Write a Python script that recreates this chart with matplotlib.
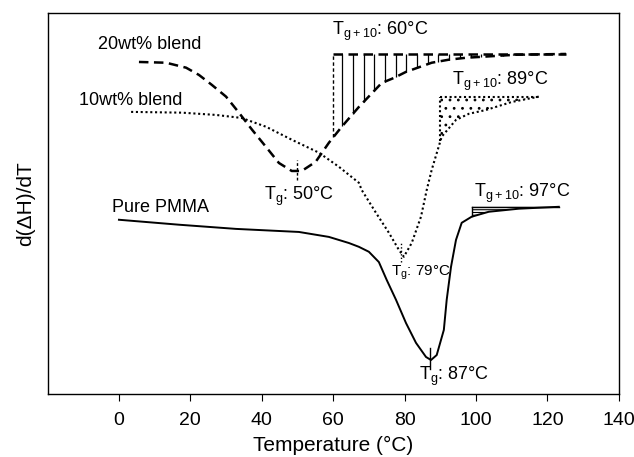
import numpy as np
import matplotlib
matplotlib.use("Agg")
import matplotlib.pyplot as plt

plt.rcParams['font.family'] = ['Liberation Sans', 'DejaVu Sans']
plt.rcParams['mathtext.fontset'] = 'custom'
plt.rcParams['mathtext.rm'] = 'Liberation Sans'
plt.rcParams['hatch.linewidth'] = 0.8

# Pure PMMA (solid)
pmma_t = [0, 16.8, 32.8, 50.4, 58.8, 64.4, 67.2, 70.0, 72.8, 75.0, 77.6, 80.4, 83.2,
          86.0, 87.4, 89.0, 91.0, 91.8, 93.0, 94.4, 96.0, 98.8, 103.6, 112.0, 123.2]
pmma_y = [45.7, 44.4, 43.3, 42.5, 41.2, 39.6, 38.6, 37.3, 34.6, 29.9, 24.7, 18.6, 13.4,
          9.7, 8.9, 10.2, 16.8, 24.7, 33.3, 40.4, 44.9, 46.5, 47.8, 48.6, 49.1]

# 10wt% blend (dotted)
b10_t = [3.4, 17.6, 27.2, 34.4, 41.2, 48.4, 56.0, 61.6, 67.2, 68.0, 72.0, 75.6, 78.4,
         79.8, 82.0, 84.6, 86.2, 87.6, 90.4, 94.4, 98.0, 102.8, 110.0, 117.6]
b10_y = [74.0, 73.8, 73.2, 72.4, 70.1, 66.7, 63.3, 59.6, 55.4, 53.5, 47.5, 42.3, 37.8,
         36.0, 39.6, 46.5, 53.5, 58.8, 67.5, 71.9, 73.5, 74.5, 76.6, 78.0]

# 20wt% blend (dashed)
b20_t = [5.6, 13.2, 18.8, 22.4, 26.0, 30.0, 33.6, 37.3, 41.2, 44.8, 48.4, 51.2, 55.1,
         58.8, 62.4, 67.2, 73.6, 77.0, 80.4, 87.6, 92.4, 97.2, 111.2, 125.2]
b20_y = [87.1, 86.9, 85.6, 83.7, 81.1, 78.0, 73.8, 69.3, 64.8, 60.6, 58.5, 58.5, 60.9,
         65.9, 70.1, 75.3, 81.6, 82.9, 84.5, 86.9, 87.7, 88.2, 89.0, 89.2]

tg = {'pmma': 87, 'b10': 79, 'b20': 50}
shade_start = {'pmma': 99, 'b10': 90, 'b20': 60}

dash = (0, (3.8, 2.2))
dot = (0, (1, 1.3))

fig = plt.figure(figsize=(6.34, 4.57), dpi=100)
ax = fig.add_axes([0.075, 0.138, 0.901, 0.834])

ax.plot(pmma_t, pmma_y, color='k', lw=1.4)
ax.plot(b10_t, b10_y, color='k', lw=1.5, linestyle=dot)
ax.plot(b20_t, b20_y, color='k', lw=1.8, linestyle=dash)

# Tg+10 shaded areas
# 20wt%: vertical lines
t0 = shade_start['b20']
top = b20_y[-1]
y0 = np.interp(t0, b20_t, b20_y)
ax.plot([t0, t0], [y0, top], color='k', lw=1.0, linestyle=(0, (2.5, 1.8)))
ax.plot([t0, b20_t[-1]], [top, top], color='k', lw=1.8, linestyle=dash)
xs = np.arange(t0 + 2.5, b20_t[-1], 3.0)
ax.vlines(xs, np.interp(xs, b20_t, b20_y), top, color='k', lw=0.9)

# 10wt%: dots
t0 = shade_start['b10']
top = b10_y[-1]
m = np.array(b10_t) >= t0
xx = np.concatenate([[t0], np.array(b10_t)[m]])
yy = np.concatenate([[np.interp(t0, b10_t, b10_y)], np.array(b10_y)[m]])
ax.fill_between(xx, yy, top, facecolor='none', edgecolor='k', hatch='..', lw=0)
ax.plot([t0, t0], [yy[0], top], color='k', lw=1.5, linestyle=dot)
ax.plot([t0, b10_t[-1]], [top, top], color='k', lw=1.5, linestyle=dot)

# PMMA: horizontal lines
t0 = shade_start['pmma']
top = pmma_y[-1]
m = np.array(pmma_t) >= t0
xx = np.concatenate([[t0], np.array(pmma_t)[m]])
yy = np.concatenate([[np.interp(t0, pmma_t, pmma_y)], np.array(pmma_y)[m]])
ax.fill_between(xx, yy, top, facecolor='none', edgecolor='k', hatch='------', lw=0)
ax.plot([t0, t0], [yy[0], top], color='k', lw=1.0)
ax.plot([t0, pmma_t[-1]], [top, top], color='k', lw=1.0)

# Tg markers
for key, t, y, ls in [('b20', b20_t, b20_y, (0, (2, 1.5))),
                      ('b10', b10_t, b10_y, (0, (1, 1.5))),
                      ('pmma', pmma_t, pmma_y, '-')]:
    yv = np.interp(tg[key], t, y)
    ax.plot([tg[key], tg[key]], [yv - 2.5, yv + 2.8], color='k', lw=1.0, linestyle=ls)

fs = 13
ax.text(-5.9, 91.6, '20wt% blend', fontsize=fs, va='center')
ax.text(-11.2, 76.9, '10wt% blend', fontsize=fs, va='center')
ax.text(-2.0, 48.8, 'Pure PMMA', fontsize=fs, va='center')
ax.text(40.6, 50.9, r'T$_{\mathregular{g}}$: 50°C', fontsize=fs, va='baseline')
ax.text(76.2, 31.0, r'T$_{\mathregular{g}}$: 79°C', fontsize=11, va='baseline')
ax.text(84.0, 3.7, r'T$_{\mathregular{g}}$: 87°C', fontsize=fs, va='baseline')
ax.text(59.6, 94.2, r'T$_{\mathregular{g+10}}$: 60°C', fontsize=fs, va='baseline')
ax.text(93.3, 81.1, r'T$_{\mathregular{g+10}}$: 89°C', fontsize=fs, va='baseline')
ax.text(99.4, 51.7, r'T$_{\mathregular{g+10}}$: 97°C', fontsize=fs, va='baseline')

ax.set_xlim(-20, 140)
ax.set_ylim(0, 100)
ax.set_xticks(range(0, 141, 20))
ax.set_yticks([])
ax.tick_params(axis='x', direction='out', length=5, labelsize=14, pad=8)
ax.set_xlabel('Temperature (°C)', fontsize=15, labelpad=5)
ax.set_ylabel('d(ΔH)/dT', fontsize=15, labelpad=9)
for s in ax.spines.values():
    s.set_linewidth(1.0)

fig.savefig('out.png', dpi=100)
